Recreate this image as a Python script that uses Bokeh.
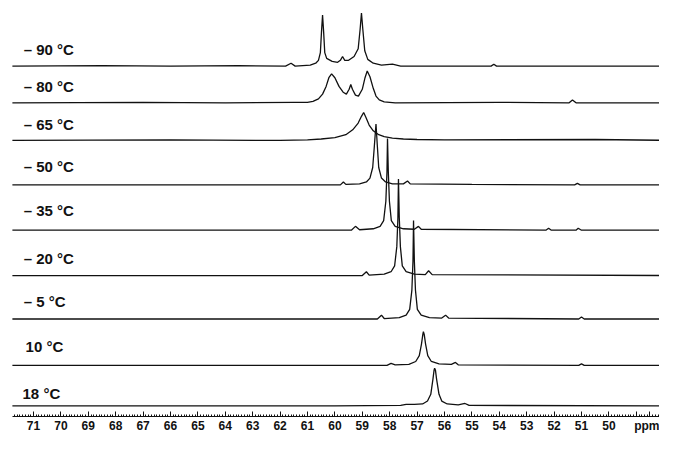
from bokeh.plotting import figure
from bokeh.models import Range1d, FixedTicker
from bokeh.core.properties import value
from bokeh.embed import file_html
from bokeh.resources import INLINE

# ---- data: spectra (ppm, intensity) ----
temps = ["– 90 °C", "– 80 °C", "– 65 °C", "– 50 °C", "– 35 °C", "– 20 °C", "– 5 °C", "10 °C", "18 °C"]

ppm_m90 = [71.77, 68.5, 66.0, 63.5, 61.8, 61.6, 61.45, 60.9, 60.7, 60.6, 60.53, 60.49, 60.45, 60.41, 60.37, 60.3,
           60.1, 59.9, 59.8, 59.72, 59.64, 59.5, 59.3, 59.15, 59.08, 59.03, 58.98, 58.91, 58.8, 58.6, 58.3,
           57.9, 57.6, 54.3, 54.2, 54.1, 47.6]
int_m90 = [0, 0.5, 0, 0.5, 0, 3, 0, 1, 3, 6, 14, 35, 53, 35, 14, 8,
           5, 4, 6, 10, 6, 6, 10, 18, 38, 55, 38, 16, 7, 3, 1,
           2, 0, 0, 2, 0, 0]

ppm_m80 = [71.77, 67.0, 64.0, 61.5, 61.0, 60.8, 60.6, 60.45, 60.32, 60.22, 60.12, 60.0, 59.85, 59.7, 59.58,
           59.48, 59.42, 59.36, 59.25, 59.14, 59.0, 58.9, 58.82, 58.72, 58.6, 58.5, 58.38, 58.2, 57.8,
           54.0, 51.45, 51.33, 51.2, 47.6]
int_m80 = [0, 0.5, 0, 0.5, 0.5, 1.5, 4, 9, 17, 26, 30, 26, 17, 11, 9,
           14, 19, 14, 8, 7, 14, 26, 33, 27, 15, 7, 3, 1, 0,
           0.5, 0, 3, 0, 0]

ppm_m65 = [71.77, 66.0, 62.0, 61.0, 60.5, 60.0, 59.6, 59.35, 59.15, 59.03, 58.95, 58.87, 58.75, 58.6, 58.4,
           58.2, 57.9, 57.5, 57.0, 56.0, 50.5, 47.6]
int_m65 = [0, 0.5, 0, 0.5, 1.5, 3, 6, 11, 18, 25, 29, 24, 16, 10, 6,
           4, 2.5, 1.5, 1, 0.5, 1, 0]

ppm_m50 = [71.77, 64.0, 60.0, 59.8, 59.69, 59.6, 59.1, 58.85, 58.72, 58.62, 58.56, 58.5, 58.45, 58.4, 58.3,
           58.15, 57.9, 57.5, 57.35, 57.25, 55.0, 51.25, 51.15, 51.05, 47.6]
int_m50 = [0, 0, 0, 0, 3, 0.5, 1, 3, 7, 18, 40, 63, 40, 18, 7,
           3, 1, 1, 4, 1, 0.5, 0, 1.5, 0, 0]

ppm_m35 = [71.77, 62.0, 59.4, 59.25, 59.1, 58.6, 58.35, 58.22, 58.14, 58.1, 58.08, 58.05, 58.01, 57.94, 57.8,
           57.5, 57.1, 56.95, 56.85, 52.3, 52.2, 52.1, 51.2, 51.12, 51.0, 47.6]
int_m35 = [0, 0, 0, 4, 0.5, 1.5, 4, 10, 30, 60, 95, 60, 30, 10, 4,
           1.5, 1, 4, 1, 0, 2, 0, 0, 2, 0, 0]

ppm_m20 = [71.77, 60.0, 59.0, 58.85, 58.75, 58.2, 57.95, 57.82, 57.74, 57.7, 57.68, 57.65, 57.61, 57.54, 57.4,
           57.1, 56.7, 56.58, 56.45, 47.6]
int_m20 = [0, 0, 0, 4, 0.5, 1.5, 4, 10, 30, 60, 100, 60, 30, 10, 4,
           1.5, 1, 5, 1, 0]

ppm_m5 = [71.77, 61.0, 58.45, 58.3, 58.2, 57.65, 57.4, 57.27, 57.19, 57.15, 57.13, 57.1, 57.06, 56.99, 56.85,
          56.55, 56.1, 55.96, 55.85, 51.1, 51.0, 50.9, 47.6]
int_m5 = [0, 0, 0, 4, 0.5, 1.5, 4, 10, 30, 60, 102, 60, 30, 10, 4,
          1.5, 1, 4, 1, 0, 2, 0, 0]

ppm_p10 = [71.77, 60.0, 58.1, 57.95, 57.8, 57.3, 57.05, 56.92, 56.84, 56.79, 56.77, 56.74, 56.69, 56.61, 56.48,
           56.2, 55.75, 55.6, 55.5, 51.1, 51.0, 50.9, 47.6]
int_p10 = [0, 0, 0, 2, 0.5, 1, 4, 10, 22, 32, 35, 32, 22, 10, 4,
           1.5, 1, 3, 0.5, 0, 1.5, 0, 0]

ppm_p18 = [71.77, 60.0, 57.6, 57.4, 57.1, 56.8, 56.62, 56.5, 56.42, 56.38, 56.36, 56.33, 56.29, 56.2, 56.1,
           55.9, 55.5, 55.25, 55.1, 47.6]
int_p18 = [0, 0, 0.5, 1.5, 1.5, 2, 5, 12, 28, 37, 39, 37, 28, 12, 5,
           2, 1, 2.5, 0.5, 0]

spectra_ppm = [ppm_m90, ppm_m80, ppm_m65, ppm_m50, ppm_m35, ppm_m20, ppm_m5, ppm_p10, ppm_p18]
spectra_int = [int_m90, int_m80, int_m65, int_m50, int_m35, int_m20, int_m5, int_p10, int_p18]

# axis ticks
major_ticks = list(range(49, 72)) + [48.5]
tick_overrides = {49: "", 48.5: "ppm"}

# ---- layout (stack positions, in the plot's vertical units; downward) ----
baselines = [68, 106, 145, 191, 238, 285, 330, 378, 420]
label_y = [51, 89, 128, 172, 218, 267, 312, 358, 407]
label_x = [71.36, 71.36, 71.36, 71.36, 71.36, 71.36, 71.36, 71.29, 71.40]

p = figure(width=659, height=435, output_backend="svg", toolbar_location=None,
           x_range=Range1d(start=72.204, end=48.153), y_range=Range1d(start=431, end=0),
           y_axis_location=None, min_border_left=0, min_border_right=0,
           min_border_top=0, min_border_bottom=16)
p.outline_line_color = None
p.xgrid.visible = False
p.ygrid.visible = False
p.background_fill_color = "white"

for xs, ys, b in zip(spectra_ppm, spectra_int, baselines):
    p.line(xs, [b - v for v in ys], line_color="#111111", line_width=1.3)

p.text(x=label_x, y=label_y, text=temps, text_font=value("Liberation Sans"),
       text_font_style="bold", text_font_size="15px", text_baseline="middle",
       text_align="left", text_color="#111111")

ax = p.xaxis[0]
ax.ticker = FixedTicker(ticks=major_ticks,
                        minor_ticks=[round(48.2 + 0.1 * i, 1) for i in range(236)])
ax.major_label_overrides = tick_overrides
ax.major_label_text_font = "Liberation Sans"
ax.major_label_text_font_style = "bold"
ax.major_label_text_font_size = "12px"
ax.major_label_text_color = "#111111"
ax.major_label_standoff = 2
ax.major_tick_in = 5
ax.major_tick_out = 0
ax.minor_tick_in = 2
ax.minor_tick_out = 0
ax.axis_line_color = "#111111"
ax.major_tick_line_color = "#111111"
ax.minor_tick_line_color = "#111111"
ax.bounds = (71.77, 48.153)

open("out.html", "w").write(file_html(p, INLINE))
